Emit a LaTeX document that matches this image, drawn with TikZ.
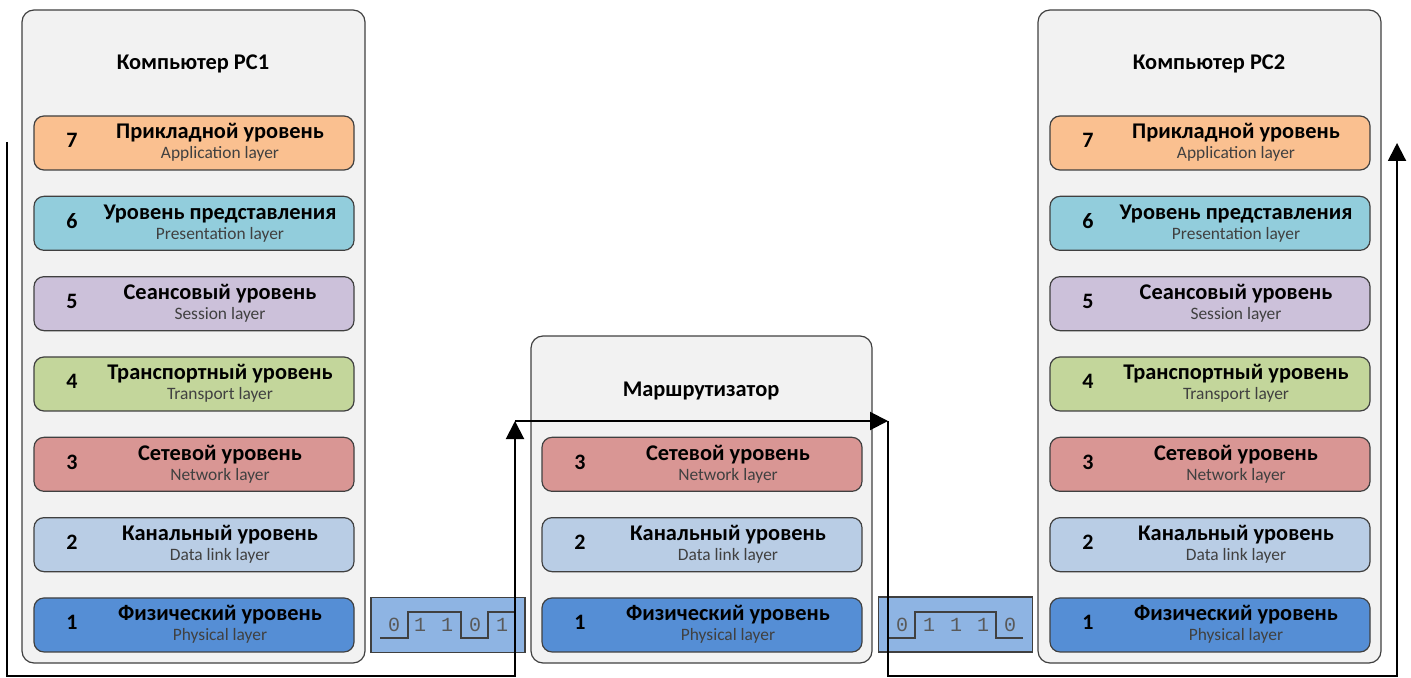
\documentclass[tikz,border=0pt]{standalone}
\usepackage{fontspec}
\setmainfont{Carlito}
\newfontfamily\bitfont{Liberation Mono}
\usetikzlibrary{arrows.meta}
\definecolor{edge}{HTML}{404040}
\definecolor{boxgray}{HTML}{F2F2F2}
\definecolor{subtext}{HTML}{404040}
\definecolor{bitgray}{HTML}{595959}
\definecolor{bitblue}{HTML}{8EB4E3}
\definecolor{lay7}{HTML}{FAC090}
\definecolor{lay6}{HTML}{92CDDC}
\definecolor{lay5}{HTML}{CCC1DA}
\definecolor{lay4}{HTML}{C3D69B}
\definecolor{lay3}{HTML}{D99694}
\definecolor{lay2}{HTML}{B9CDE5}
\definecolor{lay1}{HTML}{558ED5}

\begin{document}
\begin{tikzpicture}[x=0.5pt,y=-0.5pt,
	device/.style={draw=edge,fill=boxgray,rounded corners=6pt,line width=0.6pt,inner sep=0pt},
	devtitle/.style={font=\bfseries\fontsize{11.2}{13}\selectfont},
	layerbox/.style={draw=edge,rounded corners=5pt,line width=0.6pt,minimum width=160pt,minimum height=27pt,inner sep=0pt},
	num/.style={font=\bfseries\fontsize{11}{13}\selectfont,anchor=base,inner sep=0pt},
	ru/.style={font=\bfseries\fontsize{11.2}{13}\selectfont,anchor=base,inner sep=0pt},
	en/.style={font=\fontsize{8.7}{10}\selectfont,text=subtext,anchor=base,inner sep=0pt},
	bitbox/.style={draw=edge,fill=bitblue,line width=0.6pt,minimum width=77pt,minimum height=27.5pt,inner sep=0pt},
	bit/.style={font=\bitfont\fontsize{10}{12}\selectfont,text=bitgray,inner sep=0pt},
	wave/.style={draw=edge,line width=0.6pt},
	flow/.style={line width=1pt,-{Triangle[length=9pt,width=9pt]}}]
	\useasboundingbox (0,0) rectangle (1411,678);

	% devices
	\node[device,minimum width=171.5pt,minimum height=326.5pt] (pc1) at (193.5,336.5) {};
	\node[device,minimum width=171.5pt,minimum height=326.5pt] (pc2) at (1209.5,336.5) {};
	\node[device,minimum width=170.5pt,minimum height=163.5pt] (rt) at (701.5,499.5) {};
	\node[devtitle] (pc1-title) at (193,64) {Компьютер PC1};
	\node[devtitle] (pc2-title) at (1209,64) {Компьютер PC2};
	\node[devtitle] (rt-title) at (701,391) {Маршрутизатор};

	% layers
	\foreach \n/\ru/\en in {7/Прикладной уровень/Application layer,
		6/Уровень представления/Presentation layer,
		5/Сеансовый уровень/Session layer,
		4/Транспортный уровень/Transport layer,
		3/Сетевой уровень/Network layer,
		2/Канальный уровень/Data link layer,
		1/Физический уровень/Physical layer}
	{
		\pgfmathsetmacro{\yt}{116+(7-\n)*80.33}
		\foreach \c/\x/\top in {pc1/34/7,rt/542/3,pc2/1050/7}
		{
			\ifnum\n>\top\else
			\node[layerbox,fill=lay\n] (\c-\n) at (\x+160,\yt+27) {};
			\node[num] (\c-\n-num) at (\x+38,\yt+32) {\n};
			\node[ru] (\c-\n-ru) at (\x+186,\yt+23) {\ru};
			\node[en] (\c-\n-en) at (\x+186,\yt+43) {\en};
			\fi
		}
	}

	% bit streams
	\node[bitbox] (bits1) at (448,625) {};
	\node[bitbox] (bits2) at (955.5,624.5) {};
	\draw[wave] (380,638) -- (408,638) -- (408,612) -- (461,612) -- (461,638) -- (488,638) -- (488,612) -- (514,612);
	\draw[wave] (888,638) -- (915,638) -- (915,612) -- (996,612) -- (996,638) -- (1023,638);
	\foreach \d/\x [count=\i] in {0/394,1/420,1/447,0/475,1/502}
		\node[bit] (bits1-\i) at (\x,625) {\d};
	\foreach \d/\x [count=\i] in {0/902,1/929,1/956,1/983,0/1010}
		\node[bit] (bits2-\i) at (\x,625) {\d};

	% data path
	\coordinate (src) at (7,142);
	\coordinate (dst) at (1397,143);
	\coordinate (bot) at (0,676);
	\coordinate (in1) at (515,421);
	\coordinate (out1) at (888,421);
	\draw[flow] (src) -- (src |- bot) -- (in1 |- bot) -- (in1);
	\draw[flow] (in1) -- (out1);
	\draw[flow] (out1) -- (out1 |- bot) -- (dst |- bot) -- (dst);
\end{tikzpicture}
\end{document}
